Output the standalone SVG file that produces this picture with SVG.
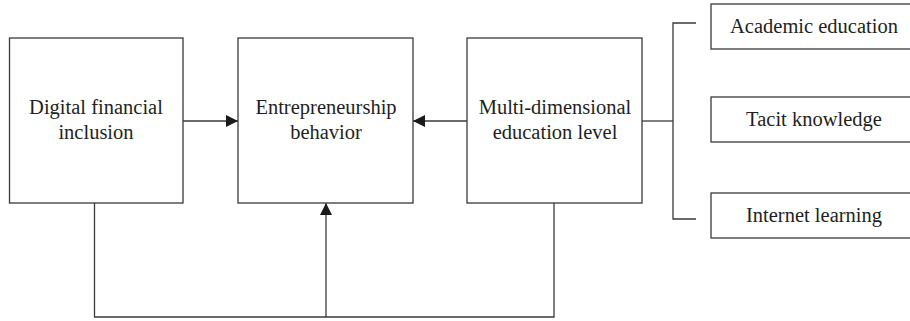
<svg xmlns="http://www.w3.org/2000/svg" width="910" height="321" viewBox="0 0 910 321">
<style>
.box{fill:#fff;stroke:#3a3a3a;stroke-width:1.3}
.ln{fill:none;stroke:#3a3a3a;stroke-width:1.3}
text{font-family:"Liberation Serif","DejaVu Serif",serif;font-size:20.5px;fill:#231f20;text-anchor:middle}
</style>
<defs>
<marker id="ah" viewBox="0 0 12 12" refX="12" refY="6" markerWidth="12" markerHeight="12" markerUnits="userSpaceOnUse" orient="auto">
<path d="M0,0 L12,6 L0,12 Z" fill="#1a1a1a"/>
</marker>
</defs>
<g id="connectors">
<line class="ln" x1="183" y1="121" x2="238" y2="121" marker-end="url(#ah)"/>
<line class="ln" x1="467" y1="121" x2="413" y2="121" marker-end="url(#ah)"/>
<polyline class="ln" points="94.5,203 94.5,317 554,317 554,203"/>
<line class="ln" x1="326" y1="317" x2="326" y2="203" marker-end="url(#ah)"/>
<line class="ln" x1="642" y1="121" x2="673" y2="121"/>
<polyline class="ln" points="696,23 673,23 673,219 696,219"/>
</g>
<g id="digital">
<rect class="box" x="9.5" y="38" width="173.5" height="165"/>
<text x="96" y="114">Digital financial</text>
<text x="96" y="139">inclusion</text>
</g>
<g id="entrepreneurship">
<rect class="box" x="238" y="38" width="175" height="165"/>
<text x="326" y="114">Entrepreneurship</text>
<text x="326" y="139">behavior</text>
</g>
<g id="education">
<rect class="box" x="467" y="38" width="175" height="165"/>
<text x="555" y="114">Multi-dimensional</text>
<text x="555" y="139">education level</text>
</g>
<g id="academic">
<rect class="box" x="711" y="4" width="220" height="45"/>
<text x="814" y="33">Academic education</text>
</g>
<g id="tacit">
<rect class="box" x="711" y="97" width="220" height="45"/>
<text x="814" y="126">Tacit knowledge</text>
</g>
<g id="internet">
<rect class="box" x="711" y="193" width="220" height="45"/>
<text x="814" y="222">Internet learning</text>
</g>
</svg>
